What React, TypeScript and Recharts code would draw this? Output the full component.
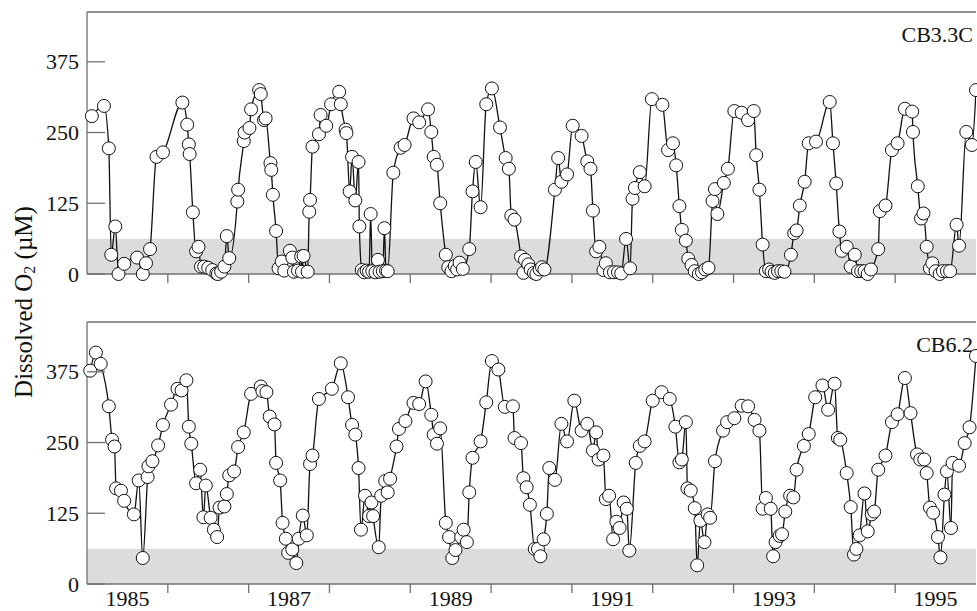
import { LineChart, Line, XAxis, YAxis, ReferenceArea, ReferenceLine } from "recharts";

const AXIS_GRAY = "#707070";
const BAND_GRAY = "#dcdcdc";
const INK = "#111";
const FONT = "'Liberation Serif', 'DejaVu Serif', 'Times New Roman', serif";
const textStyle = { fontFamily: FONT };

// axis layout values
const yearTicks = [1986, 1987, 1988, 1989, 1990, 1991, 1992, 1993, 1994, 1995];
const labelYears = [1985, 1987, 1989, 1991, 1993, 1995];
const valueTicks = [0, 125, 250, 375];
const hypoxiaLimit = 62.5;
const yMax = 463;

// station CB3.3C (decimal year, dissolved O2 in µM)
const cb33cTime = [
  1985.06, 1985.21, 1985.27, 1985.3, 1985.35, 1985.39, 1985.46, 1985.62, 1985.69, 1985.73, 1985.78, 1985.86, 1985.94,
  1986.18, 1986.24, 1986.26, 1986.27, 1986.31, 1986.35, 1986.38, 1986.41, 1986.45, 1986.5, 1986.55, 1986.6, 1986.62,
  1986.66, 1986.7, 1986.73, 1986.76, 1986.86, 1986.87, 1986.94, 1986.95,
  1987.01, 1987.03, 1987.13, 1987.15, 1987.19, 1987.21, 1987.27, 1987.28, 1987.3, 1987.34, 1987.37, 1987.41, 1987.44,
  1987.51, 1987.54, 1987.56, 1987.61, 1987.65, 1987.66, 1987.68, 1987.73, 1987.75, 1987.76, 1987.79, 1987.87, 1987.89,
  1987.96,
  1988.02, 1988.12, 1988.14, 1988.2, 1988.21, 1988.25, 1988.28, 1988.32, 1988.36, 1988.37, 1988.4, 1988.43, 1988.46,
  1988.49, 1988.51, 1988.53, 1988.57, 1988.6, 1988.62, 1988.66, 1988.68, 1988.7, 1988.72, 1988.79, 1988.88, 1988.93,
  1989.04, 1989.11, 1989.22, 1989.26, 1989.29, 1989.33, 1989.37, 1989.44, 1989.47, 1989.51, 1989.55, 1989.58, 1989.61,
  1989.65, 1989.73, 1989.77, 1989.81, 1989.87, 1989.94,
  1990.01, 1990.11, 1990.18, 1990.22, 1990.25, 1990.29, 1990.37, 1990.4, 1990.42, 1990.46, 1990.49, 1990.53, 1990.56,
  1990.6, 1990.63, 1990.66, 1990.79, 1990.83, 1990.87, 1990.94,
  1991.01, 1991.12, 1991.19, 1991.23, 1991.26, 1991.3, 1991.34, 1991.39, 1991.42, 1991.47, 1991.52, 1991.57, 1991.61,
  1991.67, 1991.72, 1991.75, 1991.78, 1991.84, 1991.9, 1991.99,
  1992.12, 1992.19, 1992.25, 1992.29, 1992.33, 1992.36, 1992.41, 1992.44, 1992.48, 1992.52, 1992.57, 1992.61, 1992.65,
  1992.69, 1992.74, 1992.77, 1992.8, 1992.88, 1992.93,
  1993.01, 1993.1, 1993.18, 1993.25, 1993.28, 1993.32, 1993.36, 1993.4, 1993.44, 1993.47, 1993.51, 1993.55, 1993.59,
  1993.63, 1993.71, 1993.75, 1993.78, 1993.82, 1993.88, 1993.93,
  1994.02, 1994.19, 1994.23, 1994.27, 1994.31, 1994.34, 1994.4, 1994.45, 1994.5, 1994.54, 1994.58, 1994.62, 1994.66,
  1994.7, 1994.79, 1994.81, 1994.88, 1994.96,
  1995.03, 1995.12, 1995.21, 1995.22, 1995.28, 1995.32, 1995.35, 1995.39, 1995.43, 1995.46, 1995.5, 1995.55, 1995.59,
  1995.64, 1995.68, 1995.76, 1995.79, 1995.88, 1995.95, 1996.0,
];
const cb33cO2 = [
  279, 297, 222, 34, 84, 0, 18, 29, 0, 19, 44, 207, 215,
  303, 264, 229, 212, 109, 40, 48, 13, 13, 11, 7, 1, 0,
  4, 13, 67, 28, 128, 149, 235, 250,
  258, 291, 325, 318, 272, 275, 196, 184, 140, 76, 10, 22, 6,
  41, 29, 4, 6, 31, 4, 32, 4, 110, 131, 225, 247, 281,
  262,
  300, 322, 300, 255, 249, 146, 207, 130, 198, 84, 7, 3, 6,
  4, 106, 5, 3, 25, 4, 5, 81, 6, 5, 179, 223, 228,
  275, 268, 291, 251, 207, 193, 125, 34, 12, 5, 14, 8, 20,
  9, 44, 146, 198, 118, 300,
  328, 259, 205, 186, 103, 96, 31, 2, 25, 17, 8, 2, 0,
  8, 12, 8, 149, 205, 163, 176,
  262, 244, 199, 186, 112, 40, 48, 7, 19, 3, 3, 3, 1,
  62, 10, 133, 152, 180, 155, 309,
  299, 219, 231, 192, 120, 78, 59, 27, 16, 5, 0, 3, 8,
  11, 129, 150, 106, 161, 186,
  288, 285, 272, 288, 210, 149, 52, 5, 8, 4, 2, 5, 5,
  4, 34, 72, 77, 121, 163, 231,
  234, 304, 231, 160, 75, 41, 48, 13, 34, 5, 5, 5, 0,
  8, 44, 111, 121, 219,
  231, 292, 287, 251, 155, 98, 107, 48, 10, 19, 5, 0, 5,
  5, 5, 87, 50, 251, 228, 325,
];

// station CB6.2
const cb62Time = [
  1985.04, 1985.11, 1985.17, 1985.27, 1985.31, 1985.34, 1985.36, 1985.42, 1985.46, 1985.58, 1985.64, 1985.69, 1985.75,
  1985.76, 1985.81, 1985.88, 1985.94,
  1986.04, 1986.12, 1986.17, 1986.23, 1986.26, 1986.29, 1986.35, 1986.4, 1986.44, 1986.47, 1986.53, 1986.57, 1986.61,
  1986.64, 1986.7, 1986.73, 1986.76, 1986.82, 1986.87, 1986.94,
  1987.03, 1987.15, 1987.17, 1987.22, 1987.26, 1987.32, 1987.34, 1987.39, 1987.42, 1987.46, 1987.49, 1987.54, 1987.59,
  1987.62, 1987.67, 1987.72, 1987.76, 1987.79, 1987.87,
  1988.03, 1988.14, 1988.23, 1988.28, 1988.32, 1988.36, 1988.39, 1988.44, 1988.49, 1988.52, 1988.54, 1988.61, 1988.64,
  1988.69, 1988.72, 1988.75, 1988.83, 1988.86, 1988.94,
  1989.04, 1989.11, 1989.19, 1989.26, 1989.29, 1989.33, 1989.37, 1989.44, 1989.48, 1989.52, 1989.56, 1989.63, 1989.66,
  1989.7, 1989.73, 1989.77, 1989.87, 1989.94,
  1990.01, 1990.09, 1990.17, 1990.27, 1990.29, 1990.37, 1990.4, 1990.44, 1990.48, 1990.54, 1990.58, 1990.61, 1990.65,
  1990.69, 1990.72, 1990.79, 1990.87, 1990.94,
  1991.03, 1991.12, 1991.19, 1991.26, 1991.3, 1991.33, 1991.39, 1991.42, 1991.46, 1991.51, 1991.55, 1991.59, 1991.64,
  1991.68, 1991.71, 1991.79, 1991.84, 1991.9,
  1992.0, 1992.11, 1992.21, 1992.28, 1992.33, 1992.36, 1992.41, 1992.43, 1992.47, 1992.52, 1992.55, 1992.59, 1992.64,
  1992.68, 1992.71, 1992.77, 1992.87, 1992.92,
  1993.01, 1993.1, 1993.18, 1993.26, 1993.32, 1993.36, 1993.4, 1993.46, 1993.49, 1993.52, 1993.57, 1993.6, 1993.64,
  1993.7, 1993.74, 1993.78, 1993.87, 1993.93,
  1994.01, 1994.1, 1994.17, 1994.25, 1994.29, 1994.32, 1994.4, 1994.45, 1994.49, 1994.52, 1994.56, 1994.62, 1994.66,
  1994.71, 1994.74, 1994.79, 1994.88, 1994.96,
  1995.03, 1995.12, 1995.19, 1995.27, 1995.31, 1995.36, 1995.39, 1995.43, 1995.47, 1995.53, 1995.56, 1995.61, 1995.64,
  1995.69, 1995.71, 1995.79, 1995.86, 1995.92, 1996.0,
];
const cb62O2 = [
  377, 409, 389, 314, 255, 243, 169, 165, 147, 123, 183, 46, 189,
  208, 217, 245, 281,
  317, 345, 342, 360, 278, 248, 178, 202, 118, 174, 117, 96, 83,
  135, 137, 159, 192, 199, 242, 268,
  336, 349, 341, 339, 296, 282, 214, 183, 108, 80, 55, 61, 37,
  80, 121, 86, 212, 227, 327,
  345, 390, 330, 281, 264, 205, 96, 156, 120, 144, 120, 65, 156,
  182, 162, 186, 243, 274, 288,
  320, 318, 358, 299, 264, 248, 275, 108, 83, 46, 60, 83, 96,
  74, 162, 223, 252, 321,
  394, 379, 313, 314, 258, 249, 187, 171, 140, 62, 62, 49, 79,
  124, 205, 184, 283, 252,
  324, 271, 283, 236, 268, 220, 227, 150, 156, 79, 110, 99, 144,
  133, 59, 214, 244, 252,
  324, 339, 327, 278, 215, 220, 286, 169, 165, 134, 33, 112, 74,
  123, 117, 217, 271, 286,
  293, 315, 314, 290, 271, 133, 152, 133, 49, 74, 85, 88, 128,
  156, 153, 202, 244, 265,
  330, 351, 308, 354, 258, 255, 196, 136, 52, 62, 86, 160, 93,
  123, 128, 202, 227, 286,
  300, 364, 302, 229, 220, 220, 196, 135, 126, 83, 47, 158, 199,
  99, 214, 209, 249, 277, 403,
];

const xTicks = [...yearTicks, ...labelYears.map((y) => y + 0.5)];

function XTick(props: any) {
  const { x, y, payload, showLabels } = props;
  const v = payload.value as number;
  if (Number.isInteger(v)) {
    return <line x1={x} x2={x} y1={y} y2={y + 9} stroke={AXIS_GRAY} strokeWidth={1.3} />;
  }
  if (!showLabels) return <g />;
  return (
    <text x={x} y={y + 22} textAnchor="middle" style={textStyle} fontSize={22} fill={INK}>
      {Math.floor(v)}
    </text>
  );
}

function YTick(props: any) {
  const { x, y, payload } = props;
  return (
    <g>
      <line x1={x} x2={x + 18} y1={y} y2={y} stroke={AXIS_GRAY} strokeWidth={1.3} />
      <text x={x - 8} y={y + 7.5} textAnchor="end" style={textStyle} fontSize={22} fill={INK}>
        {payload.value}
      </text>
    </g>
  );
}

function Panel({ time, o2, station, top, xAxisHeight, showLabels }: {
  time: number[]; o2: number[]; station: string; top: number; xAxisHeight: number; showLabels: boolean;
}) {
  const data = time.map((t, i) => ({ t, v: o2[i] }));
  return (
    <div style={{ position: "absolute", left: 0, top }}>
      <LineChart width={980} height={12 + 262 + xAxisHeight} data={data} margin={{ top: 12, right: 4, bottom: 0, left: 0 }}>
        <ReferenceArea x1={1985} x2={1996} y1={0} y2={hypoxiaLimit} fill={BAND_GRAY} fillOpacity={1} stroke="none" />
        <XAxis
          dataKey="t"
          type="number"
          domain={[1985, 1996]}
          allowDataOverflow
          ticks={xTicks}
          interval={0}
          tickSize={0}
          tickMargin={0}
          height={xAxisHeight}
          tickLine={false}
          axisLine={{ stroke: AXIS_GRAY, strokeWidth: 1.3 }}
          tick={(p: any) => <XTick {...p} showLabels={showLabels} />}
        />
        <YAxis
          type="number"
          domain={[0, yMax]}
          allowDataOverflow
          ticks={valueTicks}
          interval={0}
          width={87}
          tickSize={0}
          tickMargin={0}
          tickLine={false}
          axisLine={{ stroke: AXIS_GRAY, strokeWidth: 1.3 }}
          tick={YTick}
        />
        <ReferenceLine
          y={yMax}
          stroke={AXIS_GRAY}
          strokeWidth={1.3}
          label={(p: any) => {
            const vb = p.viewBox || {};
            return (
              <text x={(vb.x ?? 0) + (vb.width ?? 0) - 3} y={(vb.y ?? 0) + 29.5} textAnchor="end" style={textStyle} fontSize={22} fill={INK}>
                {station}
              </text>
            );
          }}
        />
        <Line
          dataKey="v"
          type="monotone"
          stroke={INK}
          strokeWidth={1.3}
          dot={{ r: 6.5, fill: "#fff", stroke: INK, strokeWidth: 1, clipDot: false }}
          isAnimationActive={false}
        />
      </LineChart>
    </div>
  );
}

export default function App() {
  return (
    <div style={{ position: "absolute", left: 0, top: 0, width: 977, height: 611, overflow: "hidden", background: "#fff", fontFamily: FONT }}>
      <Panel time={cb33cTime} o2={cb33cO2} station="CB3.3C" top={0} xAxisHeight={20} showLabels={false} />
      <Panel time={cb62Time} o2={cb62O2} station="CB6.2" top={310} xAxisHeight={27} showLabels={true} />
      <svg width={50} height={611} style={{ position: "absolute", left: 0, top: 0 }}>
        <text
          transform="translate(23,302) rotate(-90)"
          textAnchor="middle"
          dominantBaseline="central"
          style={textStyle}
          fontSize={25}
          fill={INK}
        >
          Dissolved O<tspan dy={6} fontSize={16}>2</tspan>
          <tspan dy={-6}> (µM)</tspan>
        </text>
      </svg>
    </div>
  );
}
